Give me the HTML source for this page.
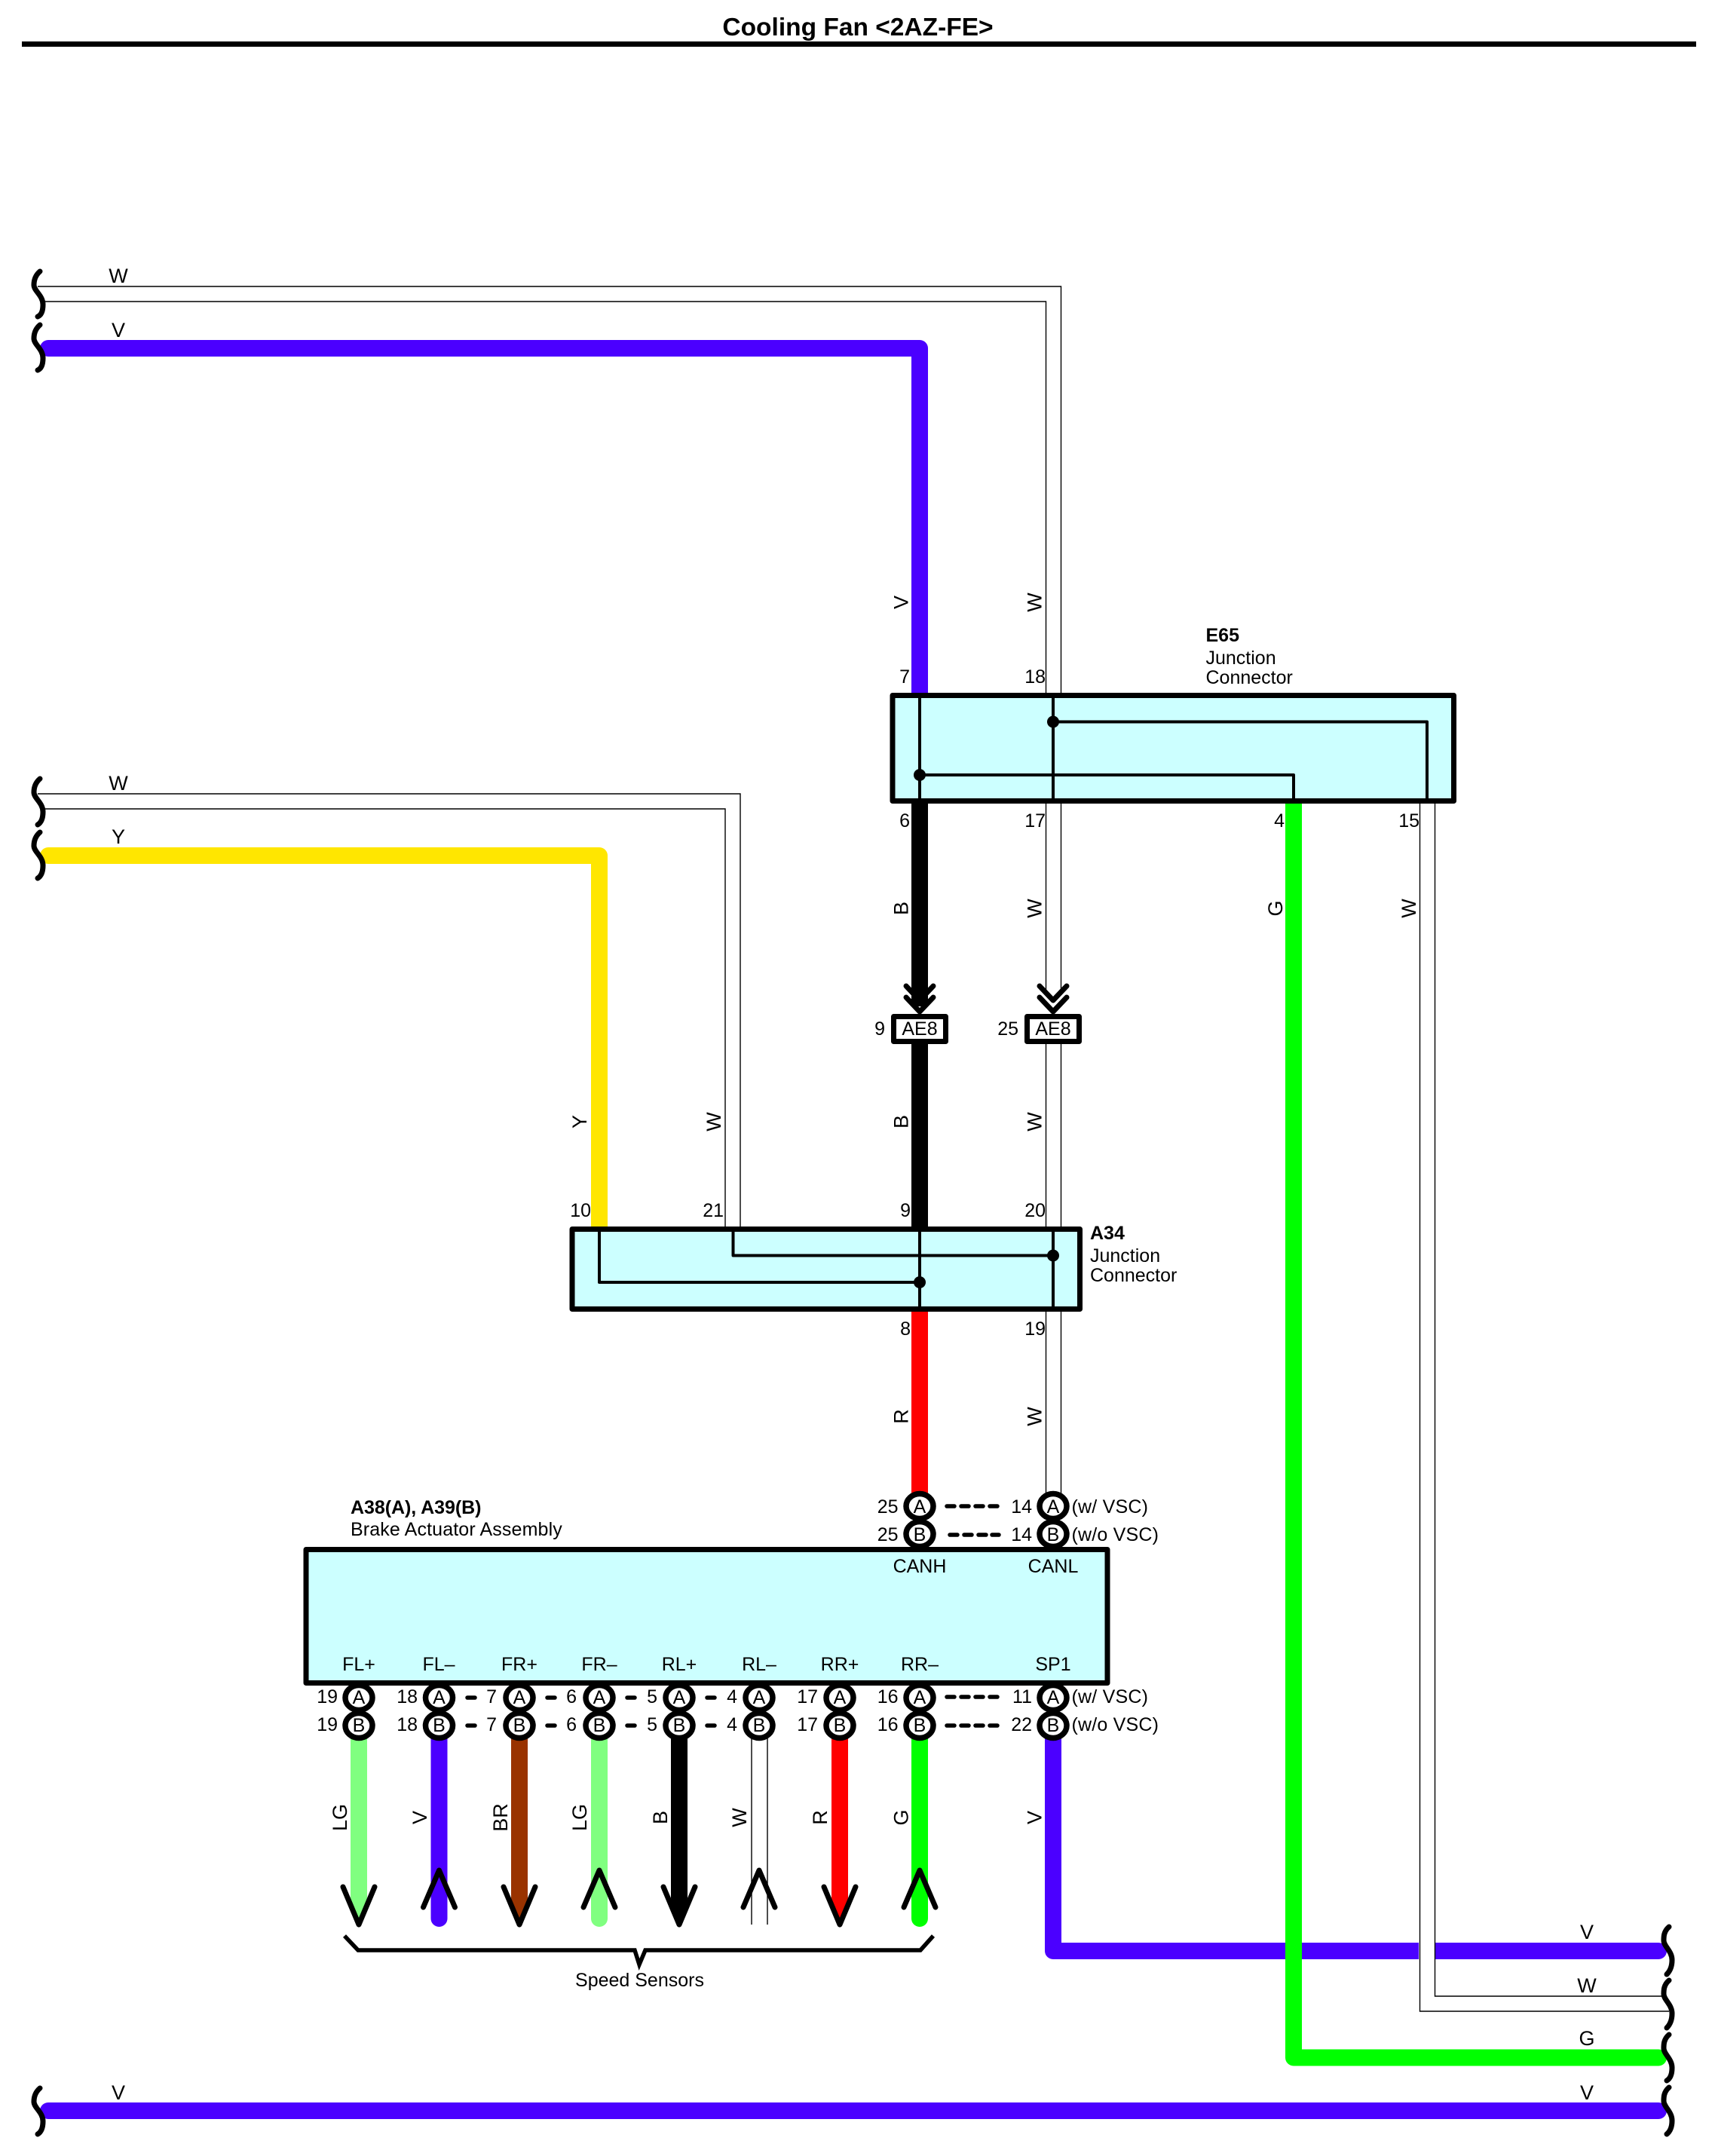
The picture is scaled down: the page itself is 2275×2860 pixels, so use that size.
<!DOCTYPE html>
<html>
<head>
<meta charset="utf-8">
<title>Cooling Fan &lt;2AZ-FE&gt;</title>
<style>
html,body{margin:0;padding:0;background:#fff}
svg{display:block}
text{font-family:"Liberation Sans",sans-serif;font-size:25px;fill:#000}
.b{font-weight:bold}
.m{text-anchor:middle}
.e{text-anchor:end}
.l{font-size:27px}
.w{fill:none;stroke-linejoin:round;stroke-width:22}
.t{fill:none;stroke:#000;stroke-width:1.4}
.i{fill:none;stroke:#000;stroke-width:4;stroke-linejoin:round}
.s{fill:none;stroke:#000;stroke-width:7;stroke-linecap:round}
.a{fill:none;stroke:#000;stroke-width:7;stroke-linecap:round;stroke-linejoin:round}
.d{fill:none;stroke:#000;stroke-width:5.5;stroke-linecap:round}
.box{fill:#ccffff;stroke:#000;stroke-width:7;stroke-linejoin:round}
.c{fill:#fff;stroke:#000;stroke-width:7.5}
</style>
</head>
<body>
<svg width="2275" height="2860" viewBox="0 0 2275 2860" xmlns="http://www.w3.org/2000/svg">
<rect width="2275" height="2860" fill="#fff"/>

<!-- Title -->
<text class="b m" x="1138" y="47" style="font-size:33.5px">Cooling Fan &lt;2AZ-FE&gt;</text>
<rect x="29" y="55" width="2221" height="7" fill="#000"/>

<!-- Thick wires -->
<path class="w" stroke="#4b00ff" stroke-linecap="round" d="M64,462 H1220 V925"/>
<path class="w" stroke="#ffe600" stroke-linecap="round" d="M64,1135 H795 V1632"/>
<path class="w" stroke="#000" d="M1220,1060 V1335"/>
<path class="w" stroke="#000" d="M1220,1380 V1632"/>
<path class="w" stroke="#ff0000" d="M1220,1735 V1985"/>
<path class="w" stroke="#4b00ff" stroke-linecap="round" d="M1397,2300 V2588 H2200"/>
<path class="w" stroke="#4b00ff" stroke-linecap="round" d="M64,2800 H2200"/>

<!-- W crossing gap in the lower V wire -->
<rect x="1882" y="2570" width="21.5" height="36" fill="#fff"/>
<path class="w" stroke="#00ff00" stroke-linecap="round" d="M1716,1060 V2729.5 H2200"/>

<!-- Thin W wires -->
<path class="t" d="M50,380 H1407.5 V1316"/>
<path class="t" d="M59,400 H1387.5 V1316"/>
<path class="t" d="M50,1053 H982 V1630"/>
<path class="t" d="M59,1073 H962 V1630"/>
<path class="t" d="M1387.5,1380 V1630 M1407.5,1380 V1630"/>
<path class="t" d="M1387.5,1736 V1985 M1407.5,1736 V1985"/>
<path class="t" d="M1903.5,1060 V2648 H2204"/>
<path class="t" d="M1883.5,1060 V2668 H2214"/>

<!-- Squiggles -->
<path class="s" d="M53,360 C46,366 45,373 45,378 C45,386 57,392 57,404 C57,412 55,418 50,420"/>
<path class="s" d="M53,431 C46,437 45,444 45,449 C45,457 57,463 57,475 C57,483 55,489 50,491"/>
<path class="s" d="M53,1033 C46,1039 45,1046 45,1051 C45,1059 57,1065 57,1077 C57,1085 55,1091 50,1094"/>
<path class="s" d="M53,1104 C46,1110 45,1117 45,1122 C45,1130 57,1136 57,1148 C57,1156 55,1162 50,1165"/>
<path class="s" d="M53,2770 C46,2776 45,2783 45,2788 C45,2796 57,2802 57,2814 C57,2822 55,2828 50,2831"/>
<path class="s" d="M2214,2556 C2207,2562 2207,2569 2207,2574 C2207,2582 2218,2588 2218,2600 C2218,2608 2216,2614 2211,2619"/>
<path class="s" d="M2214,2627 C2207,2633 2207,2640 2207,2645 C2207,2653 2218,2659 2218,2671 C2218,2679 2216,2685 2211,2690"/>
<path class="s" d="M2214,2699 C2207,2705 2207,2712 2207,2717 C2207,2725 2218,2731 2218,2743 C2218,2751 2216,2757 2211,2760"/>
<path class="s" d="M2214,2769 C2207,2775 2207,2782 2207,2787 C2207,2795 2218,2801 2218,2813 C2218,2821 2216,2827 2211,2831"/>

<!-- E65 -->
<rect class="box" x="1184" y="922.5" width="744.5" height="140"/>
<path class="i" d="M1220,922 V1063 M1397,922 V1063 M1397,957.5 H1893 V1063 M1220,1028 H1716 V1063"/>
<circle cx="1397" cy="957.5" r="8"/>
<circle cx="1220" cy="1028" r="8"/>
<text class="b" x="1599.5" y="851">E65</text>
<text x="1599.5" y="881">Junction</text>
<text x="1599.5" y="907">Connector</text>
<text class="e" x="1207" y="906">7</text>
<text class="e" x="1387" y="906">18</text>
<text class="e" x="1207" y="1097">6</text>
<text class="e" x="1387" y="1097">17</text>
<text class="e" x="1704" y="1097">4</text>
<text class="e" x="1883" y="1097">15</text>

<!-- Chevrons + AE8 -->
<path class="a" d="M1202,1308 L1220,1327 L1238,1308 M1202,1323 L1220,1342 L1238,1323"/>
<path class="a" d="M1379,1308 L1397,1327 L1415,1308 M1379,1323 L1397,1342 L1415,1323"/>
<rect x="1185.5" y="1348.5" width="69" height="33" fill="#fff" stroke="#000" stroke-width="7" stroke-linejoin="round"/>
<rect x="1362.5" y="1348.5" width="69" height="33" fill="#fff" stroke="#000" stroke-width="7" stroke-linejoin="round"/>
<text class="m" x="1220" y="1373">AE8</text>
<text class="m" x="1397" y="1373">AE8</text>
<text class="e" x="1174" y="1373">9</text>
<text class="e" x="1351" y="1373">25</text>

<!-- A34 -->
<rect class="box" x="759" y="1630.5" width="673.5" height="106"/>
<path class="i" d="M1220,1630 V1737 M1397,1630 V1737 M795,1630 V1701 H1220 M972.5,1630 V1665.5 H1397"/>
<circle cx="1220" cy="1701" r="8"/>
<circle cx="1397" cy="1665.5" r="8"/>
<text class="b" x="1446" y="1644">A34</text>
<text x="1446" y="1674">Junction</text>
<text x="1446" y="1700">Connector</text>
<text class="e" x="784" y="1614">10</text>
<text class="e" x="960" y="1614">21</text>
<text class="e" x="1208" y="1614">9</text>
<text class="e" x="1387" y="1614">20</text>
<text class="e" x="1208" y="1771">8</text>
<text class="e" x="1387" y="1771">19</text>

<!-- Wire labels rotated -->
<text class="m l" transform="translate(1204.5,799) rotate(-90)">V</text>
<text class="m l" transform="translate(1381.5,799) rotate(-90)">W</text>
<text class="m l" transform="translate(1204.5,1205) rotate(-90)">B</text>
<text class="m l" transform="translate(1381.5,1205) rotate(-90)">W</text>
<text class="m l" transform="translate(1701,1205) rotate(-90)">G</text>
<text class="m l" transform="translate(1878,1205) rotate(-90)">W</text>
<text class="m l" transform="translate(778,1488) rotate(-90)">Y</text>
<text class="m l" transform="translate(956,1488) rotate(-90)">W</text>
<text class="m l" transform="translate(1204.5,1488) rotate(-90)">B</text>
<text class="m l" transform="translate(1381.5,1488) rotate(-90)">W</text>
<text class="m l" transform="translate(1204.5,1879) rotate(-90)">R</text>
<text class="m l" transform="translate(1381.5,1879) rotate(-90)">W</text>

<!-- Horizontal wire labels -->
<text class="m l" x="157" y="375">W</text>
<text class="m l" x="157" y="447">V</text>
<text class="m l" x="157" y="1048">W</text>
<text class="m l" x="157" y="1119">Y</text>
<text class="m l" x="157" y="2785">V</text>
<text class="m l" x="2105" y="2572">V</text>
<text class="m l" x="2105" y="2643">W</text>
<text class="m l" x="2105" y="2713">G</text>
<text class="m l" x="2105" y="2785">V</text>

<!-- Top connectors of A38/A39 -->
<ellipse class="c" cx="1220" cy="2035" rx="18" ry="16.5"/>
<ellipse class="c" cx="1397" cy="2035" rx="18" ry="16.5"/>
<ellipse class="c" cx="1220" cy="1998" rx="18" ry="16.5"/>
<ellipse class="c" cx="1397" cy="1998" rx="18" ry="16.5"/>
<text class="m" x="1220" y="2007">A</text>
<text class="m" x="1220" y="2044">B</text>
<text class="m" x="1397" y="2007">A</text>
<text class="m" x="1397" y="2044">B</text>
<text class="e" x="1191.5" y="2007">25</text>
<text class="e" x="1191.5" y="2044">25</text>
<text class="e" x="1369" y="2007">14</text>
<text class="e" x="1369" y="2044">14</text>
<text x="1421.5" y="2007" style="letter-spacing:.2px">(w/ VSC)</text>
<text x="1421.5" y="2044" style="letter-spacing:.2px">(w/o VSC)</text>
<path class="d" d="M1256,1998 H1266 M1275,1998 H1285 M1294,1998 H1304 M1313,1998 H1323"/>
<path class="d" d="M1260,2036 H1270 M1279,2036 H1289 M1298,2036 H1308 M1316,2036 H1325"/>

<!-- Main box -->
<rect class="box" x="406" y="2055.5" width="1063" height="177"/>
<text class="m" x="1220" y="2086">CANH</text>
<text class="m" x="1397" y="2086">CANL</text>
<text class="m" x="476" y="2216">FL+</text>
<text class="m" x="582" y="2216">FL–</text>
<text class="m" x="689" y="2216">FR+</text>
<text class="m" x="795" y="2216">FR–</text>
<text class="m" x="901" y="2216">RL+</text>
<text class="m" x="1007" y="2216">RL–</text>
<text class="m" x="1114" y="2216">RR+</text>
<text class="m" x="1220" y="2216">RR–</text>
<text class="m" x="1397" y="2216">SP1</text>
<text class="b" x="465" y="2008" style="letter-spacing:-.05px">A38(A), A39(B)</text>
<text x="465" y="2037" style="letter-spacing:.13px">Brake Actuator Assembly</text>

<!-- Lower wires -->
<polygon fill="#80ff80" points="465,2305 487,2305 487,2518 476,2552 465,2518"/>
<path class="w" stroke="#4b00ff" stroke-linecap="round" d="M582.5,2305 V2545"/>
<polygon fill="#993300" points="678,2305 700,2305 700,2518 689,2552 678,2518"/>
<path class="w" stroke="#80ff80" stroke-linecap="round" d="M795,2305 V2545"/>
<polygon fill="#000" points="890,2305 912,2305 912,2518 901,2552 890,2518"/>
<path class="t" d="M997,2305 V2553 M1018,2305 V2553"/>
<polygon fill="#ff0000" points="1103,2305 1125,2305 1125,2518 1114,2552 1103,2518"/>
<path class="w" stroke="#00ff00" stroke-linecap="round" d="M1220,2305 V2545"/>

<!-- Arrows -->
<path class="a" d="M455,2503 L476,2553 L497,2503"/>
<path class="a" d="M561.5,2530 L582.5,2481 L603.5,2530"/>
<path class="a" d="M668,2503 L689,2553 L710,2503"/>
<path class="a" d="M774,2530 L795,2481 L816,2530"/>
<path class="a" d="M880,2503 L901,2553 L922,2503"/>
<path class="a" d="M986,2530 L1007,2481 L1028,2530"/>
<path class="a" d="M1093,2503 L1114,2553 L1135,2503"/>
<path class="a" d="M1199,2530 L1220,2481 L1241,2530"/>

<!-- Lower connectors -->
<g>
<ellipse class="c" cx="476" cy="2289" rx="18" ry="16.5"/><ellipse class="c" cx="476" cy="2252" rx="18" ry="16.5"/>
<ellipse class="c" cx="582.5" cy="2289" rx="18" ry="16.5"/><ellipse class="c" cx="582.5" cy="2252" rx="18" ry="16.5"/>
<ellipse class="c" cx="689" cy="2289" rx="18" ry="16.5"/><ellipse class="c" cx="689" cy="2252" rx="18" ry="16.5"/>
<ellipse class="c" cx="795" cy="2289" rx="18" ry="16.5"/><ellipse class="c" cx="795" cy="2252" rx="18" ry="16.5"/>
<ellipse class="c" cx="901" cy="2289" rx="18" ry="16.5"/><ellipse class="c" cx="901" cy="2252" rx="18" ry="16.5"/>
<ellipse class="c" cx="1007" cy="2289" rx="18" ry="16.5"/><ellipse class="c" cx="1007" cy="2252" rx="18" ry="16.5"/>
<ellipse class="c" cx="1114" cy="2289" rx="18" ry="16.5"/><ellipse class="c" cx="1114" cy="2252" rx="18" ry="16.5"/>
<ellipse class="c" cx="1220" cy="2289" rx="18" ry="16.5"/><ellipse class="c" cx="1220" cy="2252" rx="18" ry="16.5"/>
<ellipse class="c" cx="1397" cy="2289" rx="18" ry="16.5"/><ellipse class="c" cx="1397" cy="2252" rx="18" ry="16.5"/>
</g>
<text class="m" x="476" y="2260">A</text><text class="m" x="476" y="2297">B</text>
<text class="m" x="582.5" y="2260">A</text><text class="m" x="582.5" y="2297">B</text>
<text class="m" x="689" y="2260">A</text><text class="m" x="689" y="2297">B</text>
<text class="m" x="795" y="2260">A</text><text class="m" x="795" y="2297">B</text>
<text class="m" x="901" y="2260">A</text><text class="m" x="901" y="2297">B</text>
<text class="m" x="1007" y="2260">A</text><text class="m" x="1007" y="2297">B</text>
<text class="m" x="1114" y="2260">A</text><text class="m" x="1114" y="2297">B</text>
<text class="m" x="1220" y="2260">A</text><text class="m" x="1220" y="2297">B</text>
<text class="m" x="1397" y="2260">A</text><text class="m" x="1397" y="2297">B</text>

<text class="e" x="448" y="2259">19</text><text class="e" x="448" y="2296">19</text>
<text class="e" x="554" y="2259">18</text><text class="e" x="554" y="2296">18</text>
<text class="e" x="659" y="2259">7</text><text class="e" x="659" y="2296">7</text>
<text class="e" x="765" y="2259">6</text><text class="e" x="765" y="2296">6</text>
<text class="e" x="872" y="2259">5</text><text class="e" x="872" y="2296">5</text>
<text class="e" x="978" y="2259">4</text><text class="e" x="978" y="2296">4</text>
<text class="e" x="1085" y="2259">17</text><text class="e" x="1085" y="2296">17</text>
<text class="e" x="1191.5" y="2259">16</text><text class="e" x="1191.5" y="2296">16</text>
<text class="e" x="1369" y="2259">11</text><text class="e" x="1369" y="2296">22</text>
<text x="1421.5" y="2259" style="letter-spacing:.2px">(w/ VSC)</text>
<text x="1421.5" y="2296" style="letter-spacing:.2px">(w/o VSC)</text>

<path class="d" d="M620,2252 H630 M726,2252 H736 M832,2252 H842 M938,2252 H948"/>
<path class="d" d="M620,2289 H630 M726,2289 H736 M832,2289 H842 M938,2289 H948"/>
<path class="d" d="M1256,2251 H1266 M1275,2251 H1285 M1294,2251 H1304 M1313,2251 H1323"/>
<path class="d" d="M1256,2289 H1266 M1275,2289 H1285 M1294,2289 H1304 M1313,2289 H1323"/>

<!-- Rotated lower labels -->
<text class="m l" transform="translate(460,2411) rotate(-90)">LG</text>
<text class="m l" transform="translate(566,2411) rotate(-90)">V</text>
<text class="m l" transform="translate(673,2411) rotate(-90)">BR</text>
<text class="m l" transform="translate(778,2411) rotate(-90)">LG</text>
<text class="m l" transform="translate(885,2411) rotate(-90)">B</text>
<text class="m l" transform="translate(990,2411) rotate(-90)">W</text>
<text class="m l" transform="translate(1097,2411) rotate(-90)">R</text>
<text class="m l" transform="translate(1204.5,2411) rotate(-90)">G</text>
<text class="m l" transform="translate(1381.5,2411) rotate(-90)">V</text>

<!-- Bracket -->
<path d="M457,2568 L475,2587 H842 L848,2606 L856,2587 H1221 L1238,2568" fill="none" stroke="#000" stroke-width="5.5" stroke-linejoin="miter"/>
<text class="m" x="848.5" y="2635">Speed Sensors</text>
</svg>
</body>
</html>
